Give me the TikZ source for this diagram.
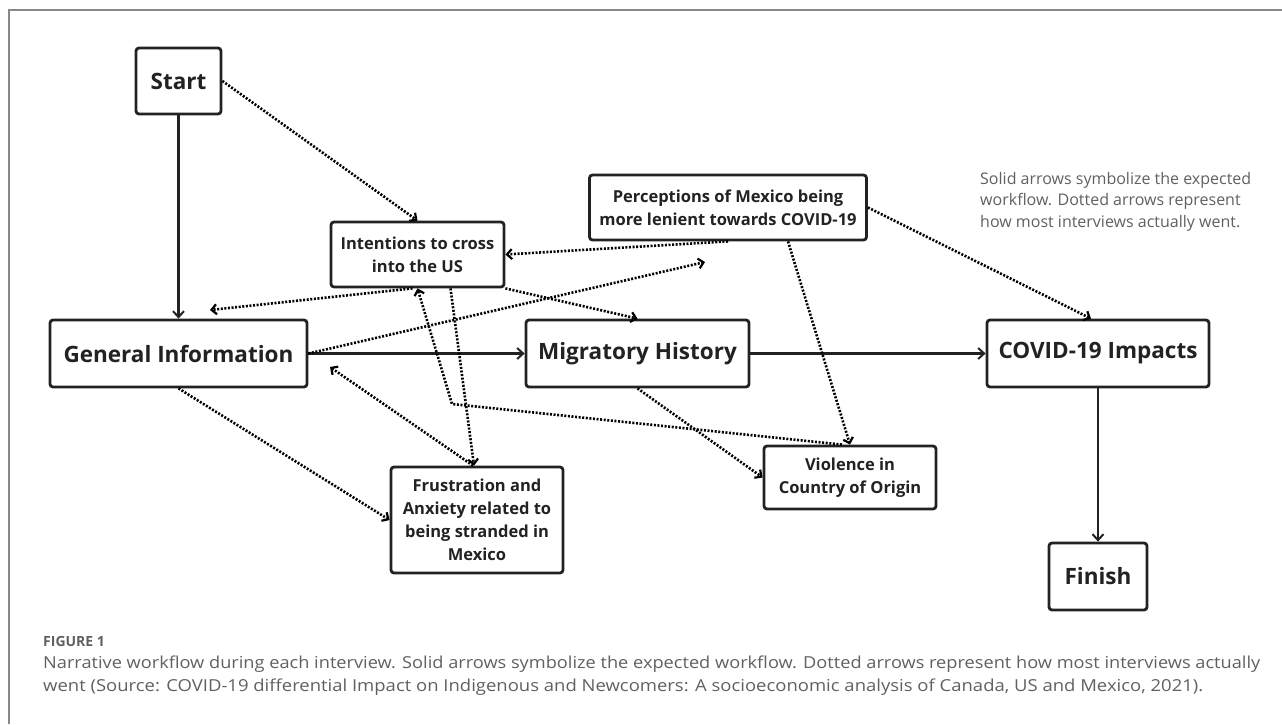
\documentclass[tikz,border=0pt]{standalone}
\usepackage{fontspec}
\setmainfont{Open Sans}
\usetikzlibrary{arrows.meta,calc}
\definecolor{ink}{HTML}{222222}
\definecolor{capgray}{HTML}{606060}
\definecolor{framegray}{HTML}{888888}
\begin{document}
\begin{tikzpicture}[x=1pt,y=-1pt,
  box/.style={draw=ink,line width=2.8pt,rounded corners=3pt,fill=white,align=center,inner sep=0pt,text=ink},
  big/.style={font=\bfseries\fontsize{22.5}{26}\selectfont},
  small/.style={font=\bfseries\fontsize{16.5}{23}\selectfont},
  flow/.style={draw=ink,line width=2.5pt,-{Straight Barb[length=6pt,width=11pt,line width=2pt]}},
  dots/.style={draw=black,line width=2.6pt,dash pattern=on 2pt off 1.6pt,-{Straight Barb[length=5pt,width=10pt,line width=2.2pt]}}]
\useasboundingbox (0,0) rectangle (1282,724);
\draw[framegray,line width=1.3pt] (9,724) -- (9,10) -- (1282,10);

\node[box,big,minimum width=85pt,minimum height=66pt] (start) at (178.5,81) {Start};
\node[box,small,minimum width=173pt,minimum height=65pt] (intent) at (417.5,254.5) {Intentions to cross\\into the US};
\node[box,small,minimum width=277pt,minimum height=65pt] (percep) at (728,207.5) {Perceptions of Mexico being\\more lenient towards COVID-19};
\node[box,big,minimum width=257pt,minimum height=67pt] (geninfo) at (178.5,353.5) {General Information};
\node[box,big,minimum width=223pt,minimum height=67pt] (migr) at (637.5,353.5) {Migratory History};
\node[box,big,minimum width=222pt,minimum height=67pt] (covid) at (1098,353.5) {COVID-19 Impacts};
\node[box,small,minimum width=172pt,minimum height=106pt] (frust) at (477,520) {Frustration and\\Anxiety related to\\being stranded in\\Mexico};
\node[box,small,minimum width=172pt,minimum height=63pt] (viol) at (850,477.5) {Violence in\\Country of Origin};
\node[box,big,minimum width=98pt,minimum height=67pt] (finish) at (1098,576.5) {Finish};

\coordinate (cEnd) at (210,310);
\coordinate (dEnd) at (705,262);
\coordinate (gEnd) at (330,367);
\coordinate (iBend) at (452,404);

\draw[flow] (start.south) -- (geninfo.north);
\draw[flow] (geninfo.east) -- (migr.west);
\draw[flow] (migr.east) -- (covid.west);
\draw[flow] (covid.south) -- (finish.north);

\draw[dots] (start.east) -- (intent.north);
\draw[dots] (percep.south) -- (intent.east);
\draw[dots] ([xshift=-5pt]intent.south) -- (cEnd);
\draw[dots] (geninfo.east) -- (dEnd);
\draw[dots] (intent.south east) -- (migr.north);
\draw[dots] ([xshift=33pt]intent.south) -- ([xshift=-3pt]frust.north);
\draw[dots] ([xshift=-4pt]frust.north) -- (gEnd);
\draw[dots] (geninfo.south) -- (frust.west);
\draw[dots] ([xshift=-8pt]viol.north) -- (iBend) -- (intent.south);
\draw[dots] ([xshift=60pt]percep.south) -- (viol.north);
\draw[dots] (migr.south) -- (viol.west);
\draw[dots] (percep.east) -- ([xshift=-7pt]covid.north);

\node[anchor=north west,align=left,text=capgray,font=\fontsize{16}{21.5}\selectfont,inner sep=0pt] (legend) at (980,172) {Solid arrows symbolize the expected\\workflow. Dotted arrows represent\\how most interviews actually went.};

\node[anchor=west,inner sep=0pt,text=capgray,font=\bfseries\fontsize{14}{16}\selectfont] (fig) at (43,641) {FIGURE 1};
\node[anchor=west,inner sep=0pt,text=capgray,font=\fontsize{16.5}{20}\selectfont] (cap1) at (43,664) {\resizebox{1217pt}{\height}{Narrative workflow during each interview. Solid arrows symbolize the expected workflow. Dotted arrows represent how most interviews actually}};
\node[anchor=west,inner sep=0pt,text=capgray,font=\fontsize{16.5}{20}\selectfont] (cap2) at (43,687) {\resizebox{1160pt}{\height}{went (Source: COVID-19 differential Impact on Indigenous and Newcomers: A socioeconomic analysis of Canada, US and Mexico, 2021).}};
\end{tikzpicture}
\end{document}
